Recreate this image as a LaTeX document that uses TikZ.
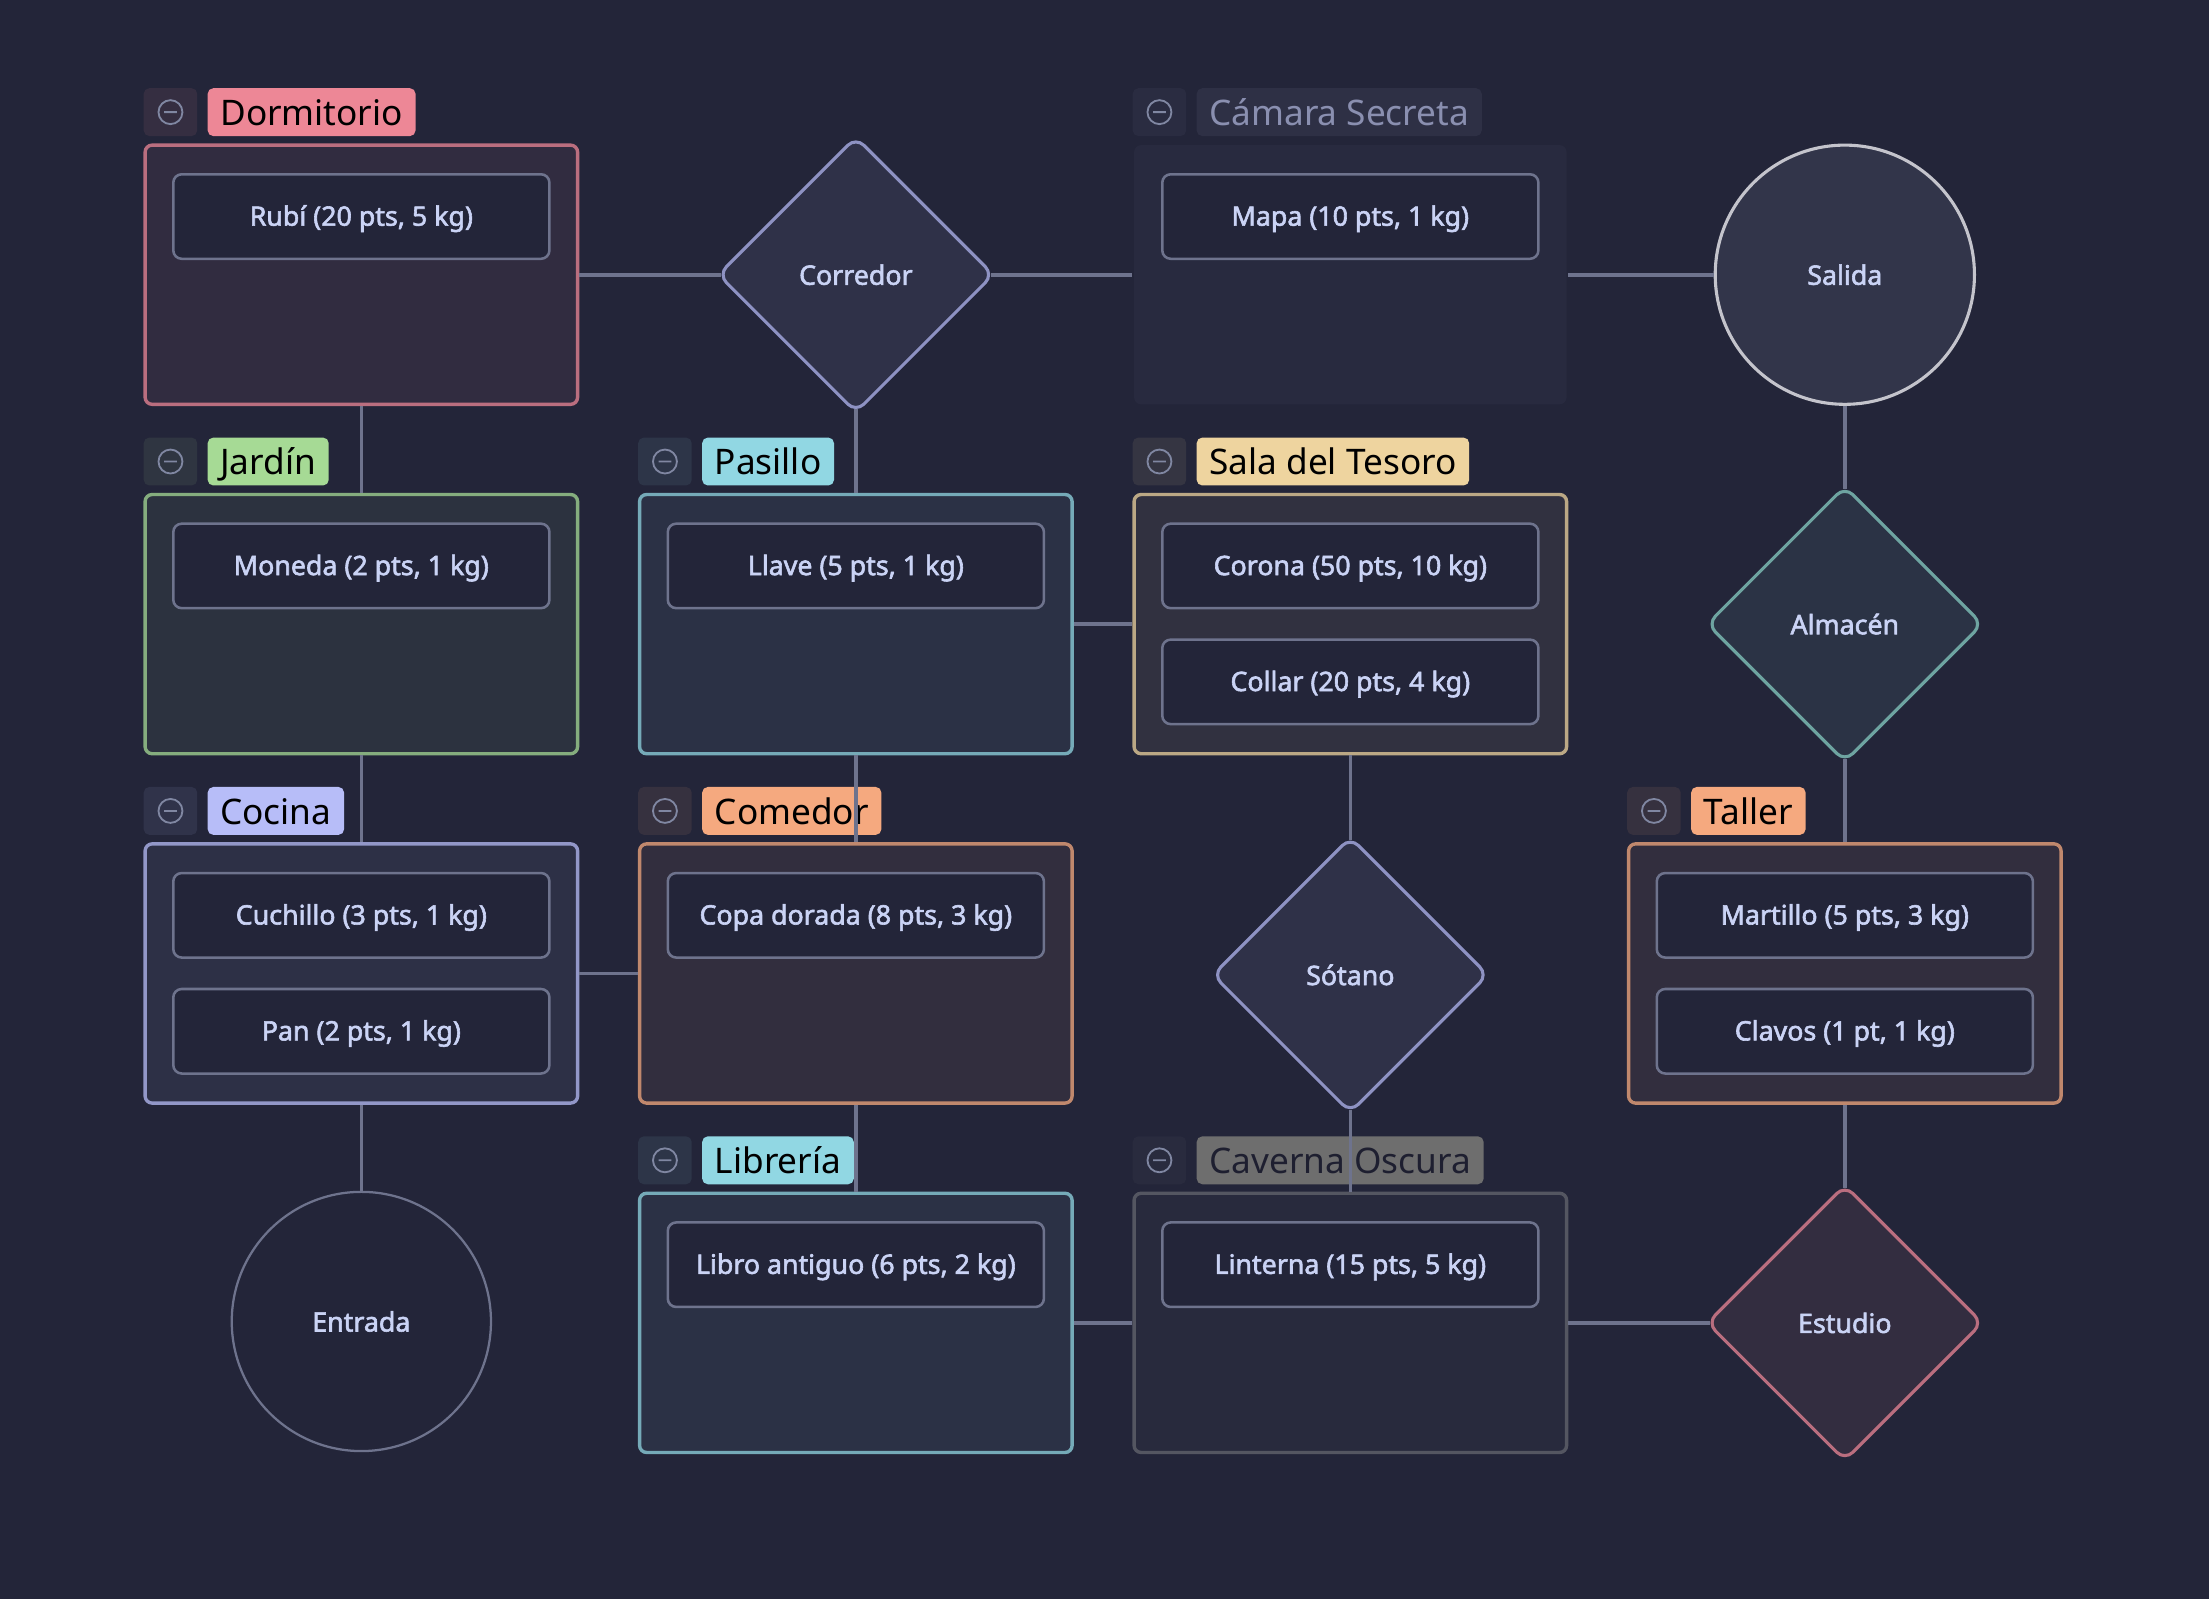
\documentclass[tikz,border=0pt]{standalone}
\usepackage{fontspec}
\setmainfont{Noto Sans}
\newfontfamily\semibold{Noto Sans}[FakeBold=2.2]
\usepackage{tikz}
\usetikzlibrary{positioning,shapes.geometric}

\definecolor{bg}{RGB}{35,37,57}
\definecolor{txt}{RGB}{202,211,245}
\definecolor{ovl}{RGB}{110,115,141}
\definecolor{ovltxt}{RGB}{138,143,176}
\definecolor{icon}{RGB}{128,135,162}
\definecolor{rosa}{RGB}{237,135,150}
\definecolor{verde}{RGB}{166,218,149}
\definecolor{cielo}{RGB}{145,215,227}
\definecolor{oro}{RGB}{238,212,159}
\definecolor{lav}{RGB}{183,189,248}
\definecolor{melo}{RGB}{245,169,127}
\definecolor{teal}{RGB}{139,213,202}
\definecolor{roca}{RGB}{100,102,110}
\definecolor{gristag}{RGB}{110,110,110}
\definecolor{plata}{RGB}{196,196,204}

\begin{document}
\begin{tikzpicture}[x=1pt,y=-1pt,
		room/.style={draw=#1!75!bg, fill=#1!7!bg, line width=2.4pt, rounded corners=5pt,
			minimum width=307pt, minimum height=184pt, inner sep=0pt},
		btn/.style={fill=#1!9!bg, rounded corners=4pt, minimum width=38pt, minimum height=34pt, inner sep=0pt,
			path picture={\draw[icon, line width=1.3pt] (path picture bounding box.center) circle[radius=8.5pt] ++(-4.5pt,0) -- ++(9pt,0);}},
		tag/.style={fill=#1, text=black, rounded corners=4pt, minimum height=34pt, inner xsep=9pt, inner ysep=0pt,
			font=\fontsize{25}{30}\selectfont, text height=23pt, text depth=4pt},
		item/.style={draw=ovl, fill=bg, text=txt, line width=1.8pt, rounded corners=6pt, inner sep=0pt,
			minimum width=267pt, minimum height=60pt, font=\semibold\fontsize{19}{23}\selectfont, text height=16pt, text depth=3pt},
		junc/.style={diamond, aspect=1, draw=#1!72!bg, fill=#1!8!bg, line width=2.2pt, rounded corners=8pt, inner sep=0pt,
			minimum width=196pt, minimum height=196pt, text=txt, font=\semibold\fontsize{19}{23}\selectfont},
		endpt/.style={circle, minimum size=184pt, inner sep=0pt, text=txt, font=\semibold\fontsize{19}{23}\selectfont},
		link/.style={draw=ovl, line width=2.6pt},
		from junc/.style={shorten <=-3.5pt},
		to junc/.style={shorten >=-3.5pt}]

	\fill[bg] (0,0) rectangle (1568,1135);

	% fila 1
	\node[room=rosa] (dorm) at (256.5,195) {};
	\node[btn=rosa, anchor=south west] (dormB) at ([yshift=5pt]dorm.north west) {};
	\node[tag=rosa, right=7pt of dormB] (dormT) {Dormitorio};
	\node[item, below=21pt of dorm.north] (rubi) {Rubí (20 pts, 5 kg)};

	\node[junc=lav] (corr) at (607.5,195) {Corredor};

	\node[room=ovl, draw=none] (cam) at (958.5,195) {};
	\node[btn=ovl, anchor=south west] (camB) at ([yshift=5pt]cam.north west) {};
	\node[tag=ovl!14!bg, text=ovltxt, right=7pt of camB] (camT) {Cámara Secreta};
	\node[item, below=21pt of cam.north] (mapa) {Mapa (10 pts, 1 kg)};

	\node[endpt, draw=plata, line width=2.2pt, fill=ovl!20!bg] (sal) at (1309.5,195) {Salida};

	% fila 2
	\node[room=verde] (jard) at (256.5,443) {};
	\node[btn=verde, anchor=south west] (jardB) at ([yshift=5pt]jard.north west) {};
	\node[tag=verde, right=7pt of jardB] (jardT) {Jardín};
	\node[item, below=21pt of jard.north] (moneda) {Moneda (2 pts, 1 kg)};

	\node[room=cielo] (pas) at (607.5,443) {};
	\node[btn=cielo, anchor=south west] (pasB) at ([yshift=5pt]pas.north west) {};
	\node[tag=cielo, right=7pt of pasB] (pasT) {Pasillo};
	\node[item, below=21pt of pas.north] (llave) {Llave (5 pts, 1 kg)};

	\node[room=oro] (sala) at (958.5,443) {};
	\node[btn=oro, anchor=south west] (salaB) at ([yshift=5pt]sala.north west) {};
	\node[tag=oro, right=7pt of salaB] (salaT) {Sala del Tesoro};
	\node[item, below=21pt of sala.north] (corona) {Corona (50 pts, 10 kg)};
	\node[item, below=20.5pt of corona] (collar) {Collar (20 pts, 4 kg)};

	\node[junc=teal] (alm) at (1309.5,443) {Almacén};

	% fila 3
	\node[room=lav] (coc) at (256.5,691) {};
	\node[btn=lav, anchor=south west] (cocB) at ([yshift=5pt]coc.north west) {};
	\node[tag=lav, right=7pt of cocB] (cocT) {Cocina};
	\node[item, below=21pt of coc.north] (cuchillo) {Cuchillo (3 pts, 1 kg)};
	\node[item, below=20.5pt of cuchillo] (pan) {Pan (2 pts, 1 kg)};

	\node[room=melo] (com) at (607.5,691) {};
	\node[btn=melo, anchor=south west] (comB) at ([yshift=5pt]com.north west) {};
	\node[tag=melo, right=7pt of comB] (comT) {Comedor};
	\node[item, below=21pt of com.north] (copa) {Copa dorada (8 pts, 3 kg)};

	\node[junc=lav] (sot) at (958.5,692) {Sótano};

	\node[room=melo] (tal) at (1309.5,691) {};
	\node[btn=melo, anchor=south west] (talB) at ([yshift=5pt]tal.north west) {};
	\node[tag=melo, right=7pt of talB] (talT) {Taller};
	\node[item, below=21pt of tal.north] (martillo) {Martillo (5 pts, 3 kg)};
	\node[item, below=20.5pt of martillo] (clavos) {Clavos (1 pt, 1 kg)};

	% fila 4
	\node[endpt, draw=ovl, line width=1.6pt, fill=bg] (ent) at (256.5,938) {Entrada};

	\node[room=cielo] (lib) at (607.5,939) {};
	\node[btn=cielo, anchor=south west] (libB) at ([yshift=5pt]lib.north west) {};
	\node[tag=cielo, right=7pt of libB] (libT) {Librería};
	\node[item, below=21pt of lib.north] (libro) {Libro antiguo (6 pts, 2 kg)};

	\node[room=roca] (cav) at (958.5,939) {};
	\node[btn=roca, anchor=south west] (cavB) at ([yshift=5pt]cav.north west) {};
	\node[tag=gristag, text=bg!85!black, right=7pt of cavB] (cavT) {Caverna Oscura};
	\node[item, below=21pt of cav.north] (linterna) {Linterna (15 pts, 5 kg)};

	\node[junc=rosa, draw=rosa!75!bg] (est) at (1309.5,939) {Estudio};
	%
	\draw[link, to junc] (dorm) -- (corr);
	\draw[link, from junc] (corr) -- (cam);
	\draw[link] (cam) -- (sal);
	\draw[link] (dorm) -- (jard);
	\draw[link, from junc] (corr) -- (pas);
	\draw[link, to junc] (sal) -- (alm);
	\draw[link] (jard) -- (coc);
	\draw[link] (pas) -- (sala);
	\draw[link] (pas) -- (com);
	\draw[link, from junc] (alm) -- (tal);
	\draw[link, to junc] (sala) -- (sot);
	\draw[link] (coc) -- (com);
	\draw[link] (coc) -- (ent);
	\draw[link] (com) -- (lib);
	\draw[link, from junc] (sot) -- (cav);
	\draw[link, to junc] (tal) -- (est);
	\draw[link] (lib) -- (cav);
	\draw[link, to junc] (cav) -- (est);
\end{tikzpicture}
\end{document}
